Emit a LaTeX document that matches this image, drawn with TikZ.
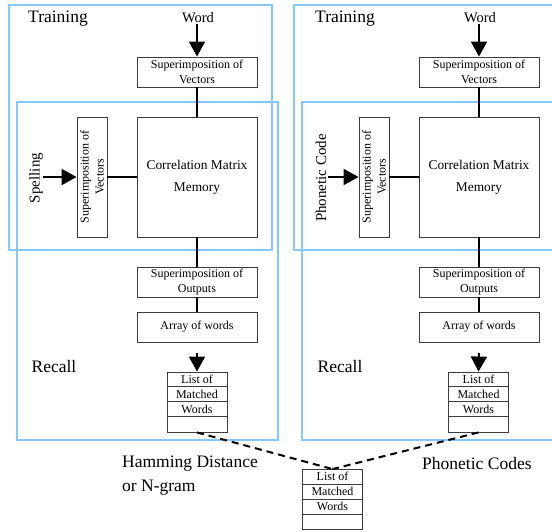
\documentclass[tikz,border=0pt]{standalone}
\usepackage{fontspec}
\setmainfont{Liberation Serif}
\usetikzlibrary{arrows.meta}
\definecolor{frameblue}{RGB}{135,200,250}
\definecolor{boxgray}{RGB}{60,60,60}
\tikzset{
  frame/.style={draw=frameblue, line width=2pt},
  box/.style={draw=boxgray, line width=0.9pt, minimum width=120pt, minimum height=30pt, inner sep=0pt, align=center, font=\fontsize{12}{15}\selectfont},
  cmmbox/.style={box, minimum height=120pt, font=\fontsize{13.4}{22}\selectfont},
  vbox/.style={box, rotate=90},
  conn/.style={draw=black, line width=2pt},
  arr/.style={conn, -{Triangle[length=15pt,width=16pt]}},
  big/.style={font=\fontsize{17.5}{24}\selectfont, inner sep=0pt},
  side/.style={font=\fontsize{15}{18}\selectfont, inner sep=0pt, rotate=90},
  wordlbl/.style={font=\fontsize{14.5}{17}\selectfont, inner sep=1pt},
  listbox/.style={draw=boxgray, line width=0.9pt, minimum width=60pt, minimum height=60pt, inner sep=0pt},
  listtxt/.style={font=\fontsize{12}{14}\selectfont, inner sep=0pt},
  dashconn/.style={draw=black, line width=2pt, dash pattern=on 7pt off 5pt}
}
\newcommand\mylistbox[3]{%
  \node[listbox] (#1) at (#2,#3) {};
  \draw[draw=boxgray, line width=0.9pt] ([yshift=-15pt]#1.north west) -- ([yshift=-15pt]#1.north east)
    ([yshift=-30pt]#1.north west) -- ([yshift=-30pt]#1.north east)
    ([yshift=-45pt]#1.north west) -- ([yshift=-45pt]#1.north east);
  \node[listtxt] (#1a) at ([yshift=-7.5pt]#1.north) {List of};
  \node[listtxt] (#1b) at ([yshift=-22.5pt]#1.north) {Matched};
  \node[listtxt] (#1c) at ([yshift=-37.5pt]#1.north) {Words};
}
\begin{document}
\begin{tikzpicture}[x=1pt,y=-1pt]
\useasboundingbox (0,0) rectangle (552,531);
\clip (0,0) rectangle (552,531);

% ---------- left panel ----------
\draw[frame] (9,5) rectangle (272,250);
\draw[frame] (17,102) rectangle (278,440);
\node[big] (trainL) at (58,18.5) {Training};
\node[big] (recallL) at (54,367) {Recall};
\node[wordlbl] (wordL) at (198,18) {Word};
\node[box] (svL) at (197,72) {Superimposition of\\Vectors};
\node[cmmbox] (cmmL) at (197,177) {Correlation Matrix\\Memory};
\node[vbox] (vsL) at (92,177) {Superimposition of\\Vectors};
\node[box] (soL) at (197,282) {Superimposition of\\Outputs};
\node[box] (awL) at (197,327) {Array of words};
\mylistbox{listL}{197}{402}
\node[side] (spell) at (36,178) {Spelling};
\coordinate (spin) at (43,177);
\coordinate (triL) at (197,353);
\draw[arr] (svL.north |- wordL.south) -- (svL.north);
\draw[conn] (svL) -- (cmmL);
\draw[conn] (vsL) -- (cmmL);
\draw[arr] (spin) -- (vsL);
\draw[conn] (cmmL) -- (soL);
\draw[conn] (soL) -- (awL);
\draw[arr] (triL) -- (listL.north);

% ---------- right panel ----------
\draw[frame] (294,5) rectangle (575,250);
\draw[frame] (302,102) rectangle (585,440);
\node[big] (trainR) at (345,18.5) {Training};
\node[big] (recallR) at (340,367) {Recall};
\node[wordlbl] (wordR) at (480,18) {Word};
\node[box] (svR) at (479,72) {Superimposition of\\Vectors};
\node[cmmbox] (cmmR) at (479,177) {Correlation Matrix\\Memory};
\node[vbox] (vsR) at (374,177) {Superimposition of\\Vectors};
\node[box] (soR) at (479,282) {Superimposition of\\Outputs};
\node[box] (awR) at (479,327) {Array of words};
\mylistbox{listR}{478.5}{402}
\node[side] (phon) at (321,178) {Phonetic Code};
\coordinate (phin) at (328,177);
\coordinate (triR) at (479,353);
\draw[arr] (svR.north |- wordR.south) -- (svR.north);
\draw[conn] (svR) -- (cmmR);
\draw[conn] (vsR) -- (cmmR);
\draw[arr] (phin) -- (vsR);
\draw[conn] (cmmR) -- (soR);
\draw[conn] (soR) -- (awR);
\draw[arr] (triR) -- (listR.north);

% ---------- bottom ----------
\mylistbox{listC}{332.5}{499.5}
\node[big, anchor=west, align=left] (ham) at (122,476) {Hamming Distance\\or N-gram};
\node[big, anchor=west] (phc) at (422,464) {Phonetic Codes};
\draw[dashconn] (listL.south) -- (listC.north);
\draw[dashconn] (listR.south) -- (listC.north);
\end{tikzpicture}
\end{document}
